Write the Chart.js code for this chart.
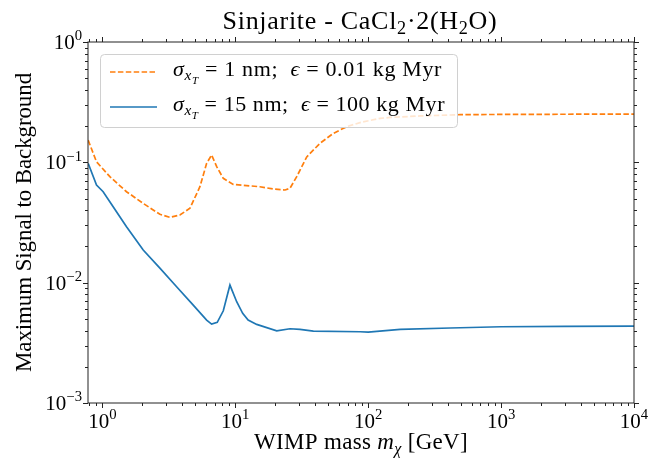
<!DOCTYPE html>
<html>
<head>
<meta charset="utf-8">
<script src="https://cdn.jsdelivr.net/npm/chart.js@4"></script>
<style>
  html, body { margin: 0; padding: 0; background: #fff; }
  canvas { display: block; }
</style>
</head>
<body>
<canvas id="chart" width="662" height="460"></canvas>
<script>
// sigma = 1 nm, exposure 0.01 kg Myr
const massSmall = [0.782, 0.904, 1.139, 1.52, 2.03, 2.71, 3.22, 3.83, 4.56, 5.42, 6.09, 6.64, 7.25, 8.13, 9.66,
	15.3, 19.3, 23.7, 25.8, 29.0, 34.5, 43.4, 54.7, 69, 88, 123, 146, 246, 348, 492, 1000, 3000, 10000]
const ratioSmall = [0.153, 0.101, 0.076, 0.057, 0.0456, 0.037, 0.0349, 0.0365, 0.0415, 0.0627, 0.098, 0.115, 0.092, 0.0736, 0.0656,
	0.0627, 0.060, 0.0589, 0.0608, 0.076, 0.111, 0.144, 0.174, 0.198, 0.215, 0.232, 0.236, 0.243, 0.246, 0.249, 0.250, 0.251, 0.252]

// sigma = 15 nm, exposure 100 kg Myr
const massLarge = [0.782, 0.904, 1.014, 1.206, 1.52, 2.03, 2.71, 3.62, 4.83, 6.09, 6.64, 7.32, 8.13, 9.12, 10.25,
	11.37, 12.5, 14.5, 20.5, 25.8, 30.7, 38.7, 86.9, 100, 174, 414, 1000, 3000, 10000]
const ratioLarge = [0.098, 0.0648, 0.057, 0.0428, 0.0292, 0.0187, 0.0132, 0.00925, 0.00651, 0.00489, 0.00453, 0.00468, 0.00584, 0.00955, 0.00694,
	0.00556, 0.00489, 0.0045, 0.00398, 0.00414, 0.00409, 0.00396, 0.00391, 0.00388, 0.00409, 0.0042, 0.0043, 0.00434, 0.00436]

const xTickExps = [0, 1, 2, 3, 4]
const yTickExps = [-3, -2, -1, 0]
const xMin = 0.78, xMax = 10000
const yMin = 0.001, yMax = 1

const SERIF = '"Liberation Serif", "DejaVu Serif", serif'
const ORANGE = '#ff7f0e'
const BLUE = '#1f77b4'

// draws a run of text pieces (italic / sub / superscript), optionally stretched to a width
const drawRich = (ctx, parts, x, y, size, align, fitWidth) => {
	ctx.letterSpacing = '0px'
	const measure = () => parts.map(p => {
		const font = (p.italic ? 'italic ' : '') + (size * (p.scale || 1)).toFixed(1) + 'px ' + SERIF
		ctx.font = font
		return { t: p.t, font, w: ctx.measureText(p.t).width, dy: (p.dy || 0) * size }
	})
	let pieces = measure()
	let total = pieces.reduce((s, p) => s + p.w, 0)
	if (fitWidth) {
		const chars = parts.reduce((s, p) => s + p.t.length, 0)
		ctx.letterSpacing = ((fitWidth - total) / chars).toFixed(2) + 'px'
		pieces = measure()
		total = pieces.reduce((s, p) => s + p.w, 0)
	}
	let cx = align === 'center' ? x - total / 2 : align === 'right' ? x - total : x
	pieces.forEach(p => {
		ctx.font = p.font
		ctx.fillText(p.t, cx, y + p.dy)
		cx += p.w
	})
	ctx.letterSpacing = '0px'
}

const sub = t => ({ t, scale: 0.7, dy: 0.22 })
const sup = t => ({ t, scale: 0.7, dy: -0.42 })

const legendRows = [
	{ color: ORANGE, dash: [5.5, 2.4], parts: [{ t: 'σ', italic: true }, { t: 'x', italic: true, scale: 0.7, dy: 0.2 }, { t: 'T', italic: true, scale: 0.5, dy: 0.36 },
		{ t: ' = 1 nm;  ' }, { t: 'ϵ', italic: true }, { t: ' = 0.01 kg Myr' }] },
	{ color: BLUE, dash: [], parts: [{ t: 'σ', italic: true }, { t: 'x', italic: true, scale: 0.7, dy: 0.2 }, { t: 'T', italic: true, scale: 0.5, dy: 0.36 },
		{ t: ' = 15 nm;  ' }, { t: 'ϵ', italic: true }, { t: ' = 100 kg Myr' }] }
]

const frame = {
	id: 'frame',
	afterDraw(chart) {
		const { ctx, chartArea: a, scales } = chart
		const xs = scales.x, ys = scales.y
		ctx.save()
		ctx.fillStyle = '#000'
		ctx.textBaseline = 'alphabetic'

		/*
		Legend box, semi transparent like matplotlib's default
		*/
		ctx.beginPath()
		ctx.roundRect(100.5, 54.5, 357, 73, 4)
		ctx.fillStyle = 'rgba(255,255,255,0.8)'
		ctx.fill()
		ctx.strokeStyle = '#d0d0d0'
		ctx.lineWidth = 1
		ctx.stroke()
		legendRows.forEach((row, i) => {
			const ly = 72 + i * 35
			ctx.beginPath()
			ctx.setLineDash(row.dash)
			ctx.strokeStyle = row.color
			ctx.lineWidth = 1.7
			ctx.moveTo(110, ly)
			ctx.lineTo(157, ly)
			ctx.stroke()
			ctx.setLineDash([])
			ctx.fillStyle = '#000'
			drawRich(ctx, row.parts, 173, ly + 4, 22, 'left', i === 0 ? 269 : 272)
		})

		/*
		Axes frame and outward ticks on all four sides
		*/
		ctx.strokeStyle = '#222'
		ctx.lineWidth = 1
		ctx.strokeRect(a.left, a.top, a.right - a.left, a.bottom - a.top)
		const tick = (x1, y1, x2, y2) => {
			ctx.beginPath()
			ctx.moveTo(x1, y1)
			ctx.lineTo(x2, y2)
			ctx.stroke()
		}
		for (let e = -1; e <= 4; e++) {
			for (let k = 1; k <= 9; k++) {
				const v = k * Math.pow(10, e)
				if (v < xMin || v > xMax) continue
				const px = Math.round(xs.getPixelForValue(v)) + 0.5
				const len = k === 1 ? 5 : 3
				tick(px, a.bottom, px, a.bottom + len)
				tick(px, a.top, px, a.top - len)
			}
		}
		for (let e = -3; e <= 0; e++) {
			for (let k = 1; k <= 9; k++) {
				const v = k * Math.pow(10, e)
				if (v < yMin || v > yMax) continue
				const py = Math.round(ys.getPixelForValue(v)) + 0.5
				const len = k === 1 ? 5 : 3
				tick(a.left, py, a.left - len, py)
				tick(a.right, py, a.right + len, py)
			}
		}

		// tick labels as 10^n
		ctx.fillStyle = '#000'
		xTickExps.forEach(e => {
			const px = xs.getPixelForValue(Math.pow(10, e))
			drawRich(ctx, [{ t: '10' }, sup(String(e))], px, 428, 21, 'center')
		})
		yTickExps.forEach(e => {
			const py = ys.getPixelForValue(Math.pow(10, e))
			drawRich(ctx, [{ t: '10' }, sup(e < 0 ? '\u2212' + (-e) : String(e))], 82, py + 7, 21, 'right')
		})

		// title and axis titles
		drawRich(ctx, [{ t: 'Sinjarite - CaCl' }, sub('2'), { t: '·2(H' }, sub('2'), { t: 'O)' }], 360, 28.5, 26, 'center', 275)
		drawRich(ctx, [{ t: 'WIMP mass ' }, { t: 'm', italic: true }, { t: 'χ', italic: true, scale: 0.7, dy: 0.22 }, { t: ' [GeV]' }],
			361, 449, 23, 'center', 214)
		ctx.translate(30.5, (a.top + a.bottom) / 2)
		ctx.rotate(-Math.PI / 2)
		drawRich(ctx, [{ t: 'Maximum Signal to Background' }], 0, 0, 23, 'center', 299)
		ctx.restore()
	}
}

const toPoints = (xsArr, ysArr) => xsArr.map((m, i) => ({ x: m, y: ysArr[i] }))

new Chart(document.getElementById('chart'), {
	type: 'line',
	data: {
		datasets: [{
			label: '1 nm; 0.01 kg Myr',
			data: toPoints(massSmall, ratioSmall),
			borderColor: ORANGE,
			borderDash: [5.5, 2.4],
			borderWidth: 1.7,
			pointRadius: 0,
			tension: 0,
			fill: false
		}, {
			label: '15 nm; 100 kg Myr',
			data: toPoints(massLarge, ratioLarge),
			borderColor: BLUE,
			borderWidth: 1.7,
			pointRadius: 0,
			tension: 0,
			fill: false
		}]
	},
	options: {
		responsive: false,
		animation: false,
		devicePixelRatio: 1,
		layout: { padding: { top: 42, right: 28, left: 0, bottom: 0 } },
		plugins: {
			legend: { display: false },
			title: { display: false },
			tooltip: { enabled: false }
		},
		scales: {
			x: {
				type: 'logarithmic',
				min: xMin,
				max: xMax,
				grid: { display: false },
				border: { display: false },
				ticks: { display: false },
				afterFit: s => { s.height = 57 }
			},
			y: {
				type: 'logarithmic',
				min: yMin,
				max: yMax,
				grid: { display: false },
				border: { display: false },
				ticks: { display: false },
				afterFit: s => { s.width = 88 }
			}
		}
	},
	plugins: [frame]
})
</script>
</body>
</html>
